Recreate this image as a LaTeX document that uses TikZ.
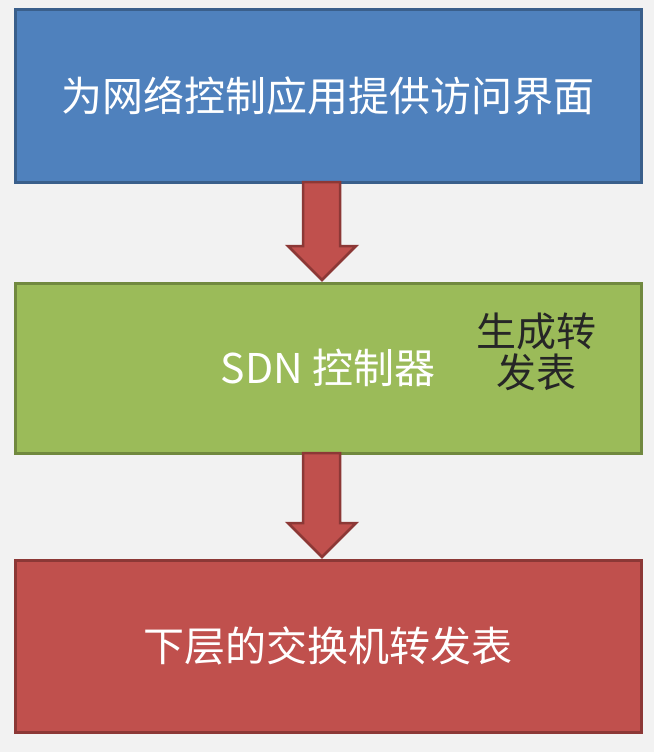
\documentclass[tikz,border=0pt]{standalone}
\usepackage{fontspec}
\setmainfont{Noto Sans CJK SC}
\usepackage{tikz}
\usetikzlibrary{positioning,calc}

\definecolor{bggray}{HTML}{F2F2F2}
\definecolor{apiblue}{HTML}{4F81BD}
\definecolor{apiedge}{HTML}{3A5F8B}
\definecolor{ctrlgreen}{HTML}{9BBB59}
\definecolor{ctrledge}{HTML}{71893F}
\definecolor{swred}{HTML}{C0504D}
\definecolor{swedge}{HTML}{8C3836}

\begin{document}
\begin{tikzpicture}
	[x=1pt,y=1pt,node distance=101pt,
		box/.style={rectangle,draw,line width=3pt,minimum width=626pt,minimum height=172pt,inner sep=0pt,outer sep=0pt,text=white,font=\fontsize{41}{44}\selectfont},
		note/.style={align=center,text=black!85,inner sep=0pt,font=\fontsize{40}{41}\selectfont},
		blockarrow/.style={draw=swedge,fill=swred,line width=2.5pt,line join=miter,
			to path={($(\tikztostart)+(-25,0)$) -- ($(\tikztotarget)+(-25,37)$) -- ($(\tikztotarget)+(-40,37)$) -- ($(\tikztotarget)+(-6,3)$) -- ($(\tikztotarget)+(28,37)$) -- ($(\tikztotarget)+(12,37)$) -- ($(\tikztostart)+(12,0)$) -- cycle}}]

	\fill[bggray] (0,0) rectangle (654,-752);

	\node[box,fill=apiblue,draw=apiedge]  (api) at (328,-96)  {为网络控制应用提供访问界面};
	\node[box,fill=ctrlgreen,draw=ctrledge,minimum height=170pt]  [below=of api]  (ctrl)  {SDN 控制器};
	\node[box,fill=swred,draw=swedge]  [below=107pt of ctrl]  (sw)  {下层的交换机转发表};
	\node[note]  at ($(ctrl.center)+(208,16)$)  (gen)  {生成转\\发表};

	\path[]
	(api.south) edge [blockarrow]  (ctrl.north)
	(ctrl.south) edge [blockarrow]  (sw.north)
	;

\end{tikzpicture}
\end{document}
